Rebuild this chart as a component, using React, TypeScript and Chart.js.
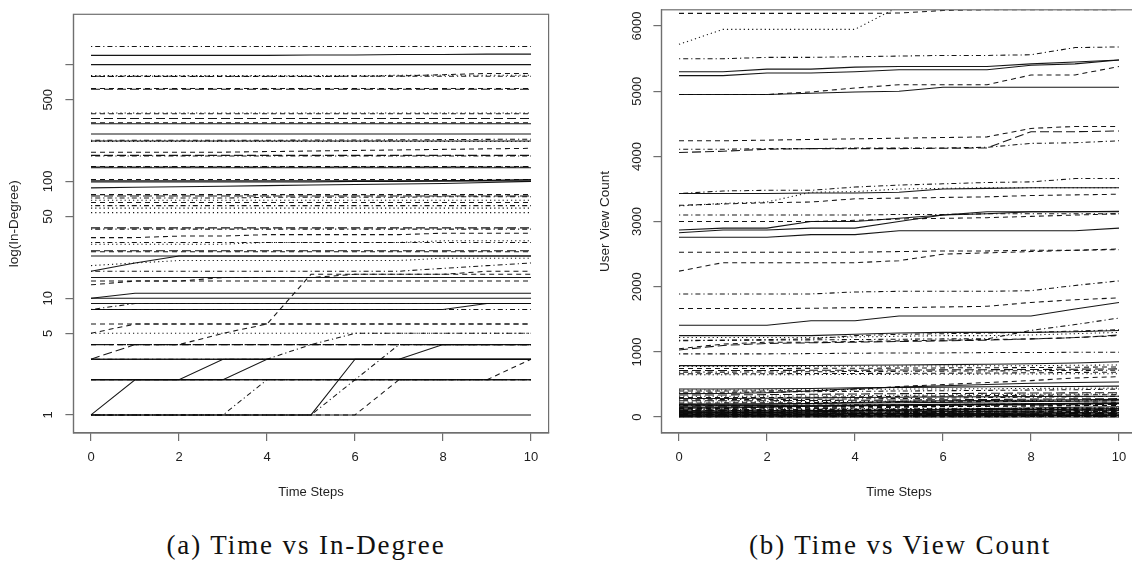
import React, { useEffect, useRef } from 'react';
import { Chart, registerables } from 'chart.js';

Chart.register(...registerables);

// ---------- shared data ----------
const timeSteps = [0, 1, 2, 3, 4, 5, 6, 7, 8, 9, 10];
const xTickValues = [0, 2, 4, 6, 8, 10];

// ---------- (a) Time vs In-Degree ----------
const inDegreeTickValues = [1, 5, 10, 50, 100, 500, 1000];
const inDegreeTickLabels = ['1', '5', '10', '50', '100', '500', ''];

const inDegreeSeries: number[][] = [
  [1430, 1430, 1430, 1430, 1430, 1430, 1430, 1430, 1430, 1430, 1430],
  [1200, 1200, 1200, 1200, 1200, 1210, 1210, 1220, 1220, 1230, 1230],
  [1000, 1000, 1000, 1000, 1000, 1000, 1000, 1000, 1000, 1000, 1000],
  [790, 790, 790, 790, 790, 790, 795, 800, 820, 840, 840],
  [805, 805, 805, 805, 805, 805, 805, 810, 810, 810, 810],
  [795, 795, 795, 795, 795, 795, 795, 795, 795, 795, 795],
  [625, 625, 625, 625, 625, 625, 625, 625, 625, 625, 625],
  [615, 615, 615, 615, 615, 615, 615, 615, 615, 615, 615],
  [385, 385, 385, 385, 385, 385, 385, 385, 385, 385, 385],
  [380, 380, 380, 380, 380, 380, 380, 380, 380, 380, 380],
  [345, 345, 345, 345, 345, 345, 345, 345, 345, 345, 345],
  [318, 318, 318, 318, 318, 318, 318, 318, 318, 318, 318],
  [312, 312, 312, 312, 312, 312, 312, 312, 312, 312, 312],
  [255, 255, 255, 255, 255, 255, 255, 255, 255, 255, 255],
  [222, 222, 222, 222, 222, 222, 222, 222, 222, 222, 222],
  [225, 225, 225, 225, 225, 226, 226, 227, 228, 229, 230],
  [220, 220, 220, 220, 220, 220, 220, 220, 220, 220, 220],
  [178, 178, 178, 178, 180, 182, 184, 186, 188, 190, 192],
  [167, 167, 167, 167, 167, 167, 167, 167, 167, 167, 167],
  [165, 165, 165, 165, 165, 165, 165, 165, 165, 165, 165],
  [134, 134, 134, 134, 134, 134, 134, 134, 134, 134, 134],
  [131, 131, 131, 131, 131, 131, 131, 131, 131, 131, 131],
  [133, 133, 133, 133, 133, 133, 133, 133, 133, 133, 133],
  [101, 101, 101, 101, 101, 101, 101, 101, 101, 101, 101],
  [104, 104, 104, 104, 104, 104, 104, 104, 104, 104, 104],
  [88, 89, 90, 91, 92, 93, 94, 95, 96, 98, 100],
  [99, 99, 99, 99, 99, 99, 100, 100, 101, 102, 104],
  [77, 77, 77, 77, 77, 77, 77, 77, 77, 77, 77],
  [75, 75, 75, 75, 75, 75, 75, 75, 75, 75, 75],
  [72, 72, 72, 72, 73, 73, 73, 73, 74, 74, 74],
  [69, 69, 69, 69, 69, 69, 69, 69, 69, 69, 69],
  [66, 66, 66, 66, 66, 66, 66, 66, 66, 66, 66],
  [62, 62, 62, 62, 62, 62, 62, 62, 62, 62, 62],
  [59, 59, 59, 59, 59, 59, 59, 59, 59, 59, 59],
  [54, 54, 54, 54, 54, 54, 54, 54, 54, 54, 54],
  [40, 40, 40, 40, 40, 40, 40, 40, 40, 40, 40],
  [39, 39, 39, 39, 39, 39, 39, 39, 39, 39, 39],
  [33, 33, 34, 34, 35, 35, 35, 35, 36, 36, 36],
  [30, 30, 30, 30, 30, 30, 30, 30, 30, 30, 30],
  [29, 29, 29, 29, 30, 30, 30, 30, 31, 31, 31],
  [25.5, 25.5, 25.5, 25.5, 25.5, 25.5, 25.5, 25.5, 25.5, 25.5, 25.5],
  [25, 25, 25, 25, 25, 25, 25, 25, 25, 25, 25],
  [23, 23, 23, 23, 23, 23, 23, 23, 23, 23, 23],
  [19, 20, 21, 21, 21, 21, 21, 21, 22, 22, 22],
  [17, 20, 23, 23, 23, 23, 23, 23, 23, 23, 23],
  [17, 17, 17, 17, 17, 17, 17, 17, 18, 19, 20],
  [15, 15, 15, 15, 15, 15, 15, 15, 15, 15, 15],
  [13, 14, 14, 15, 15, 15, 16, 16, 16, 17, 17],
  [14, 14, 14, 14, 14, 14, 14, 14, 14, 14, 14],
  [10, 11, 11, 11, 11, 11, 11, 11, 11, 11, 11],
  [10, 10, 10, 10, 10, 10, 10, 10, 10, 10, 10],
  [8, 9, 9, 9, 9, 9, 9, 9, 9, 9, 9],
  [9, 9, 9, 9, 9, 9, 9, 9, 9, 9, 9],
  [8, 8, 8, 8, 8, 8, 8, 8, 8, 9, 9],
  [8, 8, 8, 8, 8, 8, 8, 8, 8, 8, 8],
  [5, 6, 6, 6, 6, 6, 6, 6, 6, 6, 6],
  [6, 6, 6, 6, 6, 6, 6, 6, 6, 6, 6],
  [5, 5, 5, 5, 5, 5, 5, 5, 5, 5, 5],
  [3, 4, 4, 4, 4, 4, 4, 4, 4, 4, 4],
  [4, 4, 4, 4, 4, 4, 4, 4, 4, 4, 4],
  [4, 4, 4, 5, 6, 16, 16, 16, 16, 16, 16],
  [3, 3, 3, 3, 3, 4, 5, 5, 5, 5, 5],
  [1, 2, 2, 2, 2, 2, 2, 2, 2, 2, 2],
  [2, 2, 2, 3, 3, 3, 3, 3, 3, 3, 3],
  [2, 2, 2, 2, 3, 3, 3, 3, 3, 3, 3],
  [1, 1, 1, 1, 2, 2, 2, 2, 2, 2, 2],
  [1, 1, 1, 1, 1, 1, 3, 3, 3, 3, 3],
  [1, 1, 1, 1, 1, 1, 2, 4, 4, 4, 4],
  [1, 1, 1, 1, 1, 1, 1, 2, 2, 2, 2],
  [3, 3, 3, 3, 3, 3, 3, 3, 4, 4, 4],
  [2, 2, 2, 2, 2, 2, 2, 2, 2, 2, 3],
  [1, 1, 1, 1, 1, 1, 1, 1, 1, 1, 1],
  [2, 2, 2, 2, 2, 2, 2, 2, 2, 2, 2],
  [3, 3, 3, 3, 3, 3, 3, 3, 3, 3, 3],
];
// R line types (1 solid, 2 dashed, 3 dotted, 4 dotdash, 5 longdash)
const inDegreeLty = [
  4, 1, 1, 2, 3, 4, 2, 5, 3, 2, 5, 2, 1, 1, 1, 4, 3, 2, 5, 4,
  2, 1, 5, 1, 2, 1, 1, 2, 5, 4, 3, 2, 4, 3, 3, 5, 4, 2, 4, 3,
  5, 2, 1, 3, 1, 4, 1, 2, 2, 1, 1, 4, 1, 1, 4, 2, 2, 3, 5, 5,
  2, 4, 1, 1, 1, 4, 1, 4, 2, 1, 2, 1, 1, 1,
];

// ---------- (b) Time vs View Count ----------
const viewTickValues = [0, 1000, 2000, 3000, 4000, 5000, 6000];
const viewTickLabels = ['0', '1000', '2000', '3000', '4000', '5000', '6000'];

const viewCountSeries: number[][] = [
  [6195, 6195, 6195, 6195, 6195, 6200, 6240, 6250, 6250, 6250, 6250],
  [5720, 5950, 5950, 5950, 5950, 6300, 6400, 6400, 6400, 6400, 6400],
  [5500, 5500, 5520, 5520, 5530, 5540, 5550, 5550, 5560, 5670, 5680],
  [5300, 5300, 5340, 5340, 5370, 5380, 5380, 5380, 5420, 5450, 5480],
  [5240, 5240, 5280, 5280, 5300, 5330, 5330, 5330, 5400, 5420, 5480],
  [4950, 4950, 4950, 4970, 4990, 5000, 5060, 5060, 5060, 5060, 5060],
  [4950, 4950, 4950, 4990, 5050, 5100, 5100, 5100, 5250, 5250, 5380],
  [4240, 4240, 4250, 4260, 4270, 4280, 4290, 4300, 4430, 4460, 4460],
  [4060, 4080, 4110, 4120, 4120, 4120, 4125, 4130, 4380, 4380, 4390],
  [4110, 4110, 4120, 4120, 4130, 4130, 4130, 4140, 4200, 4210, 4240],
  [3430, 3470, 3480, 3480, 3530, 3560, 3580, 3600, 3610, 3660, 3660],
  [3430, 3430, 3430, 3440, 3440, 3450, 3500, 3510, 3520, 3520, 3520],
  [3240, 3280, 3300, 3450, 3460, 3500, 3510, 3520, 3520, 3520, 3520],
  [3250, 3270, 3290, 3300, 3350, 3360, 3370, 3380, 3400, 3410, 3420],
  [3100, 3100, 3100, 3100, 3100, 3110, 3110, 3120, 3120, 3120, 3120],
  [3000, 3000, 3000, 3000, 3020, 3040, 3050, 3060, 3080, 3100, 3120],
  [2870, 2900, 2900, 3000, 3000, 3050, 3100, 3150, 3150, 3150, 3150],
  [2830, 2870, 2870, 2900, 2900, 3000, 3100, 3120, 3150, 3150, 3160],
  [2760, 2760, 2760, 2800, 2800, 2860, 2860, 2860, 2860, 2860, 2900],
  [2530, 2530, 2530, 2530, 2530, 2540, 2550, 2550, 2560, 2560, 2580],
  [2240, 2370, 2370, 2370, 2370, 2400, 2500, 2520, 2540, 2560, 2570],
  [1890, 1890, 1890, 1890, 1920, 1930, 1930, 1930, 1940, 2020, 2090],
  [1665, 1665, 1665, 1670, 1680, 1680, 1690, 1700, 1760, 1800, 1830],
  [1410, 1410, 1410, 1480, 1480, 1550, 1550, 1550, 1550, 1660, 1760],
  [1250, 1250, 1250, 1250, 1270, 1290, 1300, 1300, 1300, 1310, 1330],
  [1220, 1220, 1220, 1220, 1230, 1240, 1250, 1250, 1260, 1280, 1300],
  [1170, 1180, 1190, 1200, 1250, 1270, 1280, 1290, 1300, 1320, 1340],
  [1050, 1120, 1150, 1150, 1160, 1170, 1180, 1190, 1200, 1220, 1250],
  [1030, 1100, 1130, 1140, 1150, 1160, 1170, 1180, 1200, 1220, 1260],
  [1180, 1180, 1180, 1185, 1190, 1195, 1200, 1200, 1330, 1420, 1520],
  [970, 970, 970, 975, 980, 985, 985, 990, 990, 995, 995],
  [790, 790, 790, 792, 795, 800, 805, 810, 820, 830, 850],
  [775, 775, 776, 778, 780, 782, 785, 788, 790, 795, 800],
  [745, 745, 746, 748, 750, 752, 755, 758, 760, 765, 770],
  [715, 715, 716, 718, 720, 722, 725, 728, 730, 735, 740],
  [690, 690, 692, 695, 700, 702, 705, 708, 712, 715, 720],
  [665, 665, 666, 668, 670, 672, 674, 676, 680, 685, 690],
  [650, 650, 650, 652, 654, 656, 658, 660, 662, 664, 666],
  [430, 430, 435, 440, 450, 455, 460, 465, 470, 470, 475],
  [415, 415, 418, 420, 425, 430, 432, 435, 440, 442, 445],
  [400, 400, 402, 405, 420, 470, 500, 530, 560, 600, 620],
  [360, 362, 375, 400, 440, 460, 480, 500, 520, 530, 540],
  [380, 380, 385, 390, 395, 400, 405, 410, 415, 420, 430],
  [340, 340, 345, 350, 355, 360, 362, 365, 370, 372, 375],
  [320, 320, 322, 325, 330, 335, 340, 345, 350, 352, 355],
  [300, 300, 300, 305, 310, 318, 325, 330, 335, 340, 345],
  [285, 286, 290, 295, 300, 305, 310, 312, 315, 318, 320],
  [265, 268, 270, 272, 280, 285, 290, 300, 305, 310, 320],
  [250, 250, 252, 255, 258, 262, 266, 270, 276, 280, 284],
  [232, 232, 235, 238, 240, 244, 248, 252, 256, 260, 262],
  [215, 218, 220, 222, 226, 230, 235, 238, 242, 246, 250],
  [195, 196, 198, 210, 225, 240, 250, 255, 260, 266, 272],
  [180, 180, 182, 185, 188, 190, 194, 198, 202, 206, 210],
  [165, 166, 168, 170, 174, 176, 180, 182, 186, 190, 194],
  [150, 150, 152, 155, 158, 160, 164, 168, 172, 176, 180],
  [138, 140, 150, 165, 175, 182, 186, 190, 196, 200, 204],
  [125, 125, 126, 128, 130, 132, 134, 136, 138, 140, 142],
  [112, 114, 115, 118, 120, 124, 128, 130, 134, 138, 140],
  [100, 100, 102, 104, 106, 108, 110, 113, 116, 118, 120],
  [88, 90, 92, 94, 100, 104, 108, 112, 116, 120, 126],
  [76, 76, 78, 80, 82, 84, 86, 88, 90, 92, 94],
  [64, 65, 66, 68, 70, 72, 74, 76, 78, 80, 82],
  [54, 54, 55, 56, 58, 60, 62, 64, 66, 68, 70],
  [44, 45, 46, 48, 50, 52, 54, 56, 58, 60, 62],
  [35, 35, 36, 37, 38, 40, 41, 42, 44, 45, 46],
  [26, 26, 27, 28, 29, 30, 31, 32, 33, 34, 35],
  [18, 18, 19, 20, 21, 22, 23, 24, 25, 26, 27],
  [10, 10, 11, 11, 12, 12, 13, 13, 14, 14, 15],
  [4, 4, 4, 5, 5, 5, 6, 6, 6, 7, 7],
  [0, 0, 0, 1, 1, 1, 1, 2, 2, 2, 2],
  [130, 132, 140, 150, 160, 170, 180, 190, 200, 210, 220],
  [60, 62, 70, 80, 95, 110, 120, 130, 140, 150, 160],
  [30, 30, 32, 40, 50, 60, 70, 80, 90, 100, 110],
  [150, 152, 160, 170, 180, 185, 190, 195, 200, 205, 210],
  [120, 120, 125, 130, 140, 150, 160, 165, 170, 175, 180],
  [95, 96, 98, 100, 104, 108, 112, 116, 120, 124, 128],
  [82, 84, 86, 88, 92, 96, 100, 104, 108, 112, 116],
  [70, 70, 72, 74, 76, 80, 84, 88, 92, 96, 100],
  [58, 60, 62, 64, 66, 68, 72, 76, 80, 84, 88],
  [48, 48, 50, 52, 54, 56, 58, 62, 66, 70, 74],
  [40, 40, 41, 42, 44, 46, 48, 50, 52, 54, 56],
  [30, 31, 32, 33, 34, 36, 38, 40, 42, 44, 46],
  [22, 22, 23, 24, 25, 26, 27, 28, 30, 32, 34],
  [15, 15, 16, 17, 18, 19, 20, 21, 22, 23, 24],
  [8, 8, 9, 9, 10, 10, 11, 11, 12, 12, 13],
  [200, 200, 205, 210, 215, 220, 226, 232, 238, 244, 250],
  [175, 176, 178, 182, 186, 190, 196, 200, 206, 212, 218],
  [110, 110, 112, 114, 116, 118, 122, 126, 130, 134, 138],
  [5, 5, 5, 6, 6, 6, 7, 7, 8, 8, 8],
];
const viewCountLty = [
  2, 3, 4, 1, 1, 1, 2, 2, 5, 4, 4, 1, 3, 2, 4, 2, 1, 1, 1, 2,
  2, 4, 2, 1, 1, 3, 4, 2, 5, 4, 4, 1, 3, 2, 5, 4, 2, 3, 1, 3,
  2, 1, 4, 5, 3, 2, 1, 4, 5, 3, 2, 1, 4, 5, 2, 1, 3, 4, 5, 1,
  2, 3, 4, 1, 5, 2, 1, 3, 4, 1, 2, 1, 4, 1, 2, 1, 4, 1, 2, 1,
  5, 1, 4, 1, 2, 1, 1, 4, 2, 1,
];

// ---------- styling ----------
const FONT = "'Liberation Sans', Arial, Helvetica, sans-serif";
const AXIS_COLOR = '#6f6f6f';
const TEXT_COLOR = '#1e1e1e';
const LINE_COLOR = 'rgba(10,10,10,0.95)';
const CANVAS_H = 515;
const AREA_TOP = 7;
const AREA_BOTTOM = 433;

function dashFor(lty: number): number[] {
  switch (lty) {
    case 2: return [5, 4];
    case 3: return [1.2, 3];
    case 4: return [1.2, 3, 5, 3];
    case 5: return [9, 4];
    default: return [];
  }
}

const boxPlugin = {
  id: 'rbox',
  afterDraw(chart: any) {
    const { ctx, chartArea: a } = chart;
    ctx.save();
    ctx.strokeStyle = AXIS_COLOR;
    ctx.lineWidth = 1.2;
    ctx.strokeRect(a.left, a.top, a.right - a.left, a.bottom - a.top);
    ctx.restore();
  },
};

type PanelProps = {
  left: number;
  width: number;
  areaLeft: number;
  areaRight: number;
  series: number[][];
  lty: number[];
  logY: boolean;
  yMin: number;
  yMax: number;
  yTickValues: number[];
  yTickLabels: string[];
  yTitle: string;
  yTickPad: number;
  yTitlePad: number;
};

function Panel(p: PanelProps) {
  const ref = useRef<HTMLCanvasElement>(null);
  useEffect(() => {
    const datasets = p.series.map((vals, i) => ({
      data: timeSteps.map((t, j) => ({ x: t, y: vals[j] })),
      borderColor: LINE_COLOR,
      borderWidth: 1.05,
      borderDash: dashFor(p.lty[i % p.lty.length]),
      pointRadius: 0,
      tension: 0,
      fill: false,
    }));
    const chart = new Chart(ref.current as HTMLCanvasElement, {
      type: 'line',
      data: { datasets },
      plugins: [boxPlugin],
      options: {
        animation: false,
        responsive: false,
        events: [],
        layout: { padding: { left: 0, top: AREA_TOP, right: p.width - p.areaRight, bottom: 0 } },
        plugins: { legend: { display: false }, tooltip: { enabled: false } },
        scales: {
          x: {
            type: 'linear',
            min: -0.4,
            max: 10.4,
            afterFit: (s: any) => { s.height = CANVAS_H - AREA_BOTTOM; },
            afterBuildTicks: (s: any) => { s.ticks = xTickValues.map((v) => ({ value: v })); },
            grid: { display: true, drawOnChartArea: false, drawTicks: true, tickLength: 8, color: AXIS_COLOR, lineWidth: 1.2 },
            border: { display: true, color: AXIS_COLOR, width: 1.2 },
            ticks: {
              color: TEXT_COLOR,
              padding: 9,
              maxRotation: 0,
              autoSkip: false,
              font: { family: FONT, size: 13 },
              callback: (v: any) => String(v),
            },
            title: {
              display: true,
              text: 'Time Steps',
              color: TEXT_COLOR,
              font: { family: FONT, size: 13 },
              padding: { top: 0, bottom: 15 },
            },
          },
          y: {
            type: p.logY ? 'logarithmic' : 'linear',
            min: p.yMin,
            max: p.yMax,
            afterFit: (s: any) => { s.width = p.areaLeft; },
            afterBuildTicks: (s: any) => { s.ticks = p.yTickValues.map((v) => ({ value: v })); },
            grid: { display: true, drawOnChartArea: false, drawTicks: true, tickLength: 8, color: AXIS_COLOR, lineWidth: 1.2 },
            border: { display: true, color: AXIS_COLOR, width: 1.2 },
            ticks: {
              color: TEXT_COLOR,
              padding: p.yTickPad,
              minRotation: 90,
              maxRotation: 90,
              crossAlign: 'center',
              autoSkip: false,
              font: { family: FONT, size: 13 },
              callback: (v: any) => {
                const k = p.yTickValues.indexOf(Number(v));
                return k >= 0 ? p.yTickLabels[k] : '';
              },
            },
            title: {
              display: true,
              text: p.yTitle,
              color: TEXT_COLOR,
              font: { family: FONT, size: 13.5 },
              padding: { top: p.yTitlePad, bottom: 0 },
            },
          },
        },
      } as any,
    });
    return () => chart.destroy();
  }, []);
  return (
    <canvas
      ref={ref}
      width={p.width}
      height={CANVAS_H}
      style={{ position: 'absolute', left: p.left, top: 0, width: p.width, height: CANVAS_H }}
    />
  );
}

const captionStyle: React.CSSProperties = {
  position: 'absolute',
  top: 528,
  fontFamily: "'Liberation Serif', 'Times New Roman', serif",
  fontSize: 27,
  letterSpacing: '1.9px',
  color: '#111',
  whiteSpace: 'nowrap',
  transform: 'translateX(-50%)',
  lineHeight: '34px',
};

export default function App() {
  useEffect(() => {
    document.body.style.margin = '0';
    document.body.style.background = '#fff';
  }, []);
  return (
    <div style={{ position: 'relative', width: 1132, height: 562, overflow: 'hidden', background: '#fff' }}>
      <Panel
        left={0}
        width={560}
        areaLeft={73.4}
        areaRight={548.6}
        series={inDegreeSeries}
        lty={inDegreeLty}
        logY={true}
        yMin={0.7346}
        yMax={2698}
        yTickValues={inDegreeTickValues}
        yTickLabels={inDegreeTickLabels}
        yTitle="log(In-Degree)"
        yTickPad={6.5}
        yTitlePad={6}
      />
      <Panel
        left={580}
        width={570}
        areaLeft={81.4}
        areaRight={556.6}
        series={viewCountSeries}
        lty={viewCountLty}
        logY={false}
        yMin={-244}
        yMax={6250}
        yTickValues={viewTickValues}
        yTickLabels={viewTickLabels}
        yTitle="User View Count"
        yTickPad={2}
        yTitlePad={17}
      />
      <div style={{ ...captionStyle, left: 306 }}>(a) Time vs In-Degree</div>
      <div style={{ ...captionStyle, left: 900 }}>(b) Time vs View Count</div>
    </div>
  );
}
